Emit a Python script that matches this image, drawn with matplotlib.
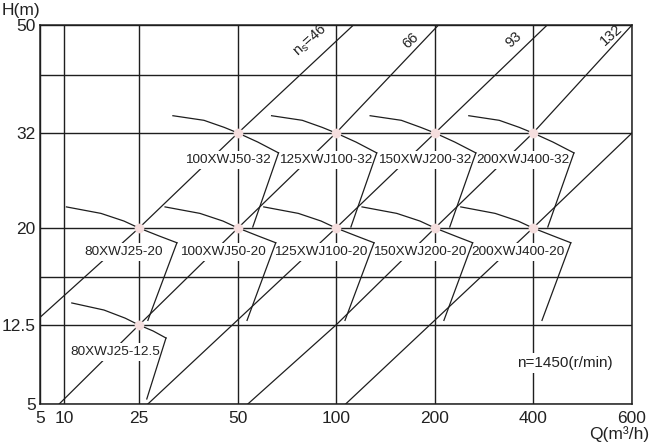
import numpy as np
import matplotlib
matplotlib.use('Agg')
import matplotlib.pyplot as plt

plt.rcParams['font.family'] = ['Liberation Sans', 'DejaVu Sans']

# axis ticks (Q in m3/h, H in m)
q_ticks = [5, 10, 25, 50, 100, 200, 400, 600]
h_ticks = [5, 12.5, 20, 32, 50]
h_extra = [16, 40]          # unlabelled grid lines

# the chart is only roughly logarithmic, so place each tick where it sits (px from origin)
q_pos = [0, 24, 99, 198, 296, 395, 493, 592]
h_vals = [5, 12.5, 16, 20, 32, 40, 50]
h_pos = [0, 79, 127, 176, 271, 329, 379]

# pumps and their duty points
pump_names = ['80XWJ25-12.5', '80XWJ25-20', '100XWJ50-20', '125XWJ100-20', '150XWJ200-20',
              '200XWJ400-20', '100XWJ50-32', '125XWJ100-32', '150XWJ200-32', '200XWJ400-32']
pump_q = [25, 25, 50, 100, 200, 400, 50, 100, 200, 400]
pump_h = [12.5, 20, 20, 20, 20, 20, 32, 32, 32, 32]

# H-Q curve of each pump (left end -> duty point -> right end)
curve_q = [
    [11.0, 16.3, 21.1, 25, 27.6, 30.2],
    [10.3, 15.7, 20.8, 25, 28.7, 32.6],
    [30.0, 38.3, 45.0, 50, 57.5, 65.3],
    [60.0, 76.6, 90.0, 100, 115, 130.5],
    [120, 153, 180, 200, 230, 261],
    [240, 306, 360, 400, 434, 467],
    [31.7, 39.4, 45.4, 50, 57.5, 66.6],
    [63.4, 78.8, 90.7, 100, 115, 133],
    [127, 158, 181, 200, 230, 267],
    [254, 315, 363, 400, 434, 473],
]
curve_h = [
    [14.0, 13.5, 12.95, 12.5, 11.66, 10.75],
    [22.2, 21.5, 20.7, 20, 19.3, 18.7],
    [22.2, 21.5, 20.7, 20, 19.3, 18.7],
    [22.2, 21.5, 20.7, 20, 19.3, 18.7],
    [22.2, 21.5, 20.7, 20, 19.3, 18.7],
    [22.2, 21.5, 20.7, 20, 19.3, 18.7],
    [34.2, 33.6, 32.7, 32, 30.6, 29.0],
    [34.2, 33.6, 32.7, 32, 30.6, 29.0],
    [34.2, 33.6, 32.7, 32, 30.6, 29.0],
    [34.2, 33.6, 32.7, 32, 30.6, 29.0],
]
# bottom end of the line dropping from the right end of each curve
foot_q = [26.4, 26.6, 53.3, 106.5, 213, 415, 55.5, 111, 222, 425]
foot_h = [5.3, 12.8, 12.8, 12.8, 12.8, 12.8, 20.1, 20.1, 20.1, 20.1]

# specific speed lines
ns_labels = [r'$\mathregular{n_s}$=46', '66', '93', '132', '']
ns_q = [[5, 25, 50, 113], [8.7, 25, 50, 100, 205], [26.6, 100, 200, 424],
        [53.6, 100, 200, 400, 600], [107, 400, 600]]
ns_h = [[13.0, 20, 32, 50], [5, 12.5, 20, 32, 50], [5, 20, 32, 50],
        [5, 12.5, 20, 32, 50], [5, 20, 32]]


def piecewise(vals, pos):
    lv = np.log(vals)

    def fwd(x):
        x = np.clip(np.asarray(x, dtype=float), 1e-9, None)
        return np.interp(np.log(x), lv, pos)

    def inv(y):
        return np.exp(np.interp(y, pos, lv))
    return fwd, inv


ink = '#1e1e1e'
fig = plt.figure(figsize=(6.5, 4.44), dpi=100)
ax = fig.add_axes([40 / 650, 40 / 444, 592 / 650, 379 / 444])
ax.set_xscale('function', functions=piecewise(q_ticks, q_pos))
ax.set_yscale('function', functions=piecewise(h_vals, h_pos))

# specific speed lines
for q, h in zip(ns_q, ns_h):
    ax.plot(q, h, color=ink, lw=0.9, zorder=2)

# pump curves
for i in range(len(pump_names)):
    ax.plot(curve_q[i], curve_h[i], color=ink, lw=0.9, zorder=5)
    ax.plot([curve_q[i][-1], foot_q[i]], [curve_h[i][-1], foot_h[i]], color=ink, lw=0.9, zorder=5)
ax.plot(pump_q, pump_h, 'o', color='#f5dede', ms=7, mec='none', zorder=6)

# pump labels
for name, q, h in zip(pump_names, pump_q, pump_h):
    if h == 32:
        off = (-10, -27)
    elif h == 20:
        off = (-15, -24)
    else:
        off = (-24, -27)
    ax.annotate(name, (q, h), xytext=off, textcoords='offset pixels', ha='center', va='center',
                fontsize=9.7, color='#222', zorder=4,
                bbox=dict(boxstyle='square,pad=0.25', fc='white', ec='none'))

# ns labels along the top, just above-left of each line
ns_px = [(310, 41), (411, 41), (514, 40), (611, 35)]
for lab, (px, py) in zip(ns_labels, ns_px):
    ax.text((px - 40) / 592, (404 - py) / 379, lab, transform=ax.transAxes, rotation=42,
            ha='center', va='center', fontsize=10.5, color='#222', zorder=7)

ax.text((565 - 40) / 592, (404 - 363) / 379, 'n=1450(r/min)', transform=ax.transAxes,
        ha='center', va='center', fontsize=11, color='#222', zorder=7,
        bbox=dict(boxstyle='square,pad=0.2', fc='white', ec='none'))

ax.set_xlim(5, 600)
ax.set_ylim(5, 50)
ax.set_xticks(q_ticks)
ax.set_xticklabels([str(v) for v in q_ticks])
ax.set_yticks(h_ticks)
ax.set_yticklabels(['5', '12.5', '20', '32', '50'])
ax.set_yticks(h_extra, minor=True)
ax.set_xticks([], minor=True)
ax.tick_params(which='both', length=0, labelsize=12.5, colors='#222')
ax.tick_params(axis='x', pad=5)
ax.tick_params(axis='y', pad=3)
ax.grid(True, which='both', color=ink, lw=1.0, zorder=1)
ax.set_axisbelow(True)
for s in ax.spines.values():
    s.set_color(ink)
    s.set_linewidth(1.1)

fig.text(2 / 650, 1 - 10 / 444, 'H(m)', ha='left', va='center', fontsize=12.5, color='#222')
fig.text(1 - 1 / 650, 1 - 434 / 444, 'Q(m³/h)', ha='right', va='center', fontsize=12.5, color='#222')

fig.savefig('out.png', dpi=100)
